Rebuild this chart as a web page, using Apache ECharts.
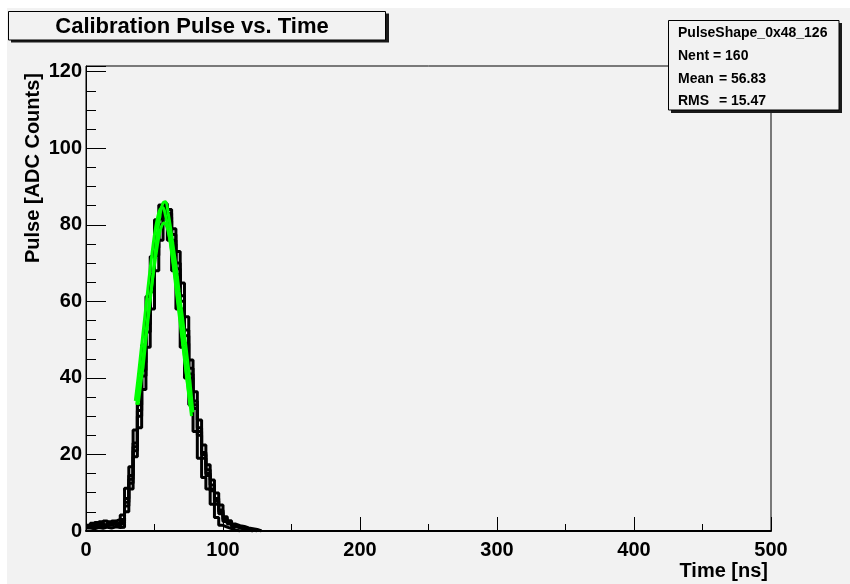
<!DOCTYPE html>
<html>
<head>
<meta charset="utf-8">
<title>Calibration Pulse vs. Time</title>
<script src="https://cdn.jsdelivr.net/npm/echarts@6/dist/echarts.min.js"></script>
<style>
  html, body { margin: 0; padding: 0; background: #fff; }
  #bg { position: absolute; left: 7px; top: 8px; width: 843px; height: 576px; background: #f2f2f2; }
  #chart { position: absolute; left: 0; top: 0; width: 850px; height: 584px; }
</style>
</head>
<body>
<div id="bg"></div>
<div id="chart"></div>
<script>
// bin width of the pulse histograms (ns)
const BIN = 3.125;

// overlaid pulse shapes, one value per bin starting at t = 0
const pulseEarly = [1.5, 1.2, 1.6, 1.3, 1.8, 2.0, 2.6, 3.0, 4.2, 11.2, 16.8, 26.4, 36.9, 48.6, 61.3, 71.7,
  81.3, 85.2, 82, 76, 68, 58, 48, 40, 33, 26, 19, 14, 11, 7, 3.5, 1.5, 1.0, 0.6, 0.3, 0];
const pulseMid1 = [1.2, 2.0, 1.0, 1.8, 1.4, 2.4, 1.8, 2.2, 3.0, 8.5, 14.5, 23, 33, 44, 56, 67,
  76, 83, 85.5, 81, 75, 67, 58, 49, 40, 32, 25, 19, 14.5, 10.5, 7, 4.5, 2.5, 1.8, 1.2, 0.8, 0.5, 0.3, 0];
const pulseMid2 = [0.9, 1.4, 2.2, 1.1, 2.6, 1.5, 2.0, 1.6, 2.0, 6.5, 12.5, 21, 30, 40.5, 52, 62.5,
  72, 80, 84.5, 83, 77.5, 70, 61.5, 52.5, 42.5, 34, 27, 20.5, 16, 12, 8.5, 5.5, 3.2, 2.2, 1.5, 1.0, 0.8, 0.5, 0.3, 0];
const pulseMid3 = [1.0, 1.7, 1.3, 2.4, 1.2, 1.9, 2.3, 1.4, 2.5, 7.5, 13.5, 22, 31.5, 42, 54, 65,
  74, 81.5, 85, 82, 76, 68.5, 60, 51, 41, 33, 26, 20, 15, 11, 7.8, 5, 2.8, 2.0, 1.3, 0.9, 0.6, 0.4, 0];
const pulseLate = [0.8, 0.6, 0.9, 0.7, 1.0, 0.8, 1.1, 0.9, 1.0, 5, 11, 19.4, 27, 37, 48, 58,
  68, 76, 84, 84, 79, 73, 64.8, 56, 44.7, 36.4, 29, 22.5, 17.3, 13.3, 9.9, 6.8, 3.7, 2.7, 1.8, 1.4, 1.2, 0.8, 0.6, 0.4, 0];

// fitted curves (green)
const fitTimeA = [38, 40, 42, 44, 46, 48, 50, 52, 54, 56, 58, 60, 62, 64, 66, 68, 70, 72, 74, 76, 78];
const fitA = [33, 38.5, 44, 51, 57.5, 64, 71, 77.5, 82.5, 85.5, 86, 83, 78.5, 73.5, 68.5, 62.5, 57, 51, 45, 38.5, 31];
const fitTimeB = [37, 39, 41, 43, 45, 47, 49, 51, 53, 55, 57, 59, 61, 63, 65, 67, 69, 71, 73, 75, 77];
const fitB = [33, 38, 43.5, 49.5, 55.5, 61.5, 67, 72, 76.5, 79.5, 80.5, 79.5, 76.5, 72, 66.5, 60.5, 54.5, 48.5, 42, 36, 30];
const fitTimeC = [36, 38, 40, 42, 44, 46, 48, 50, 52, 54, 56, 58, 60, 62, 64, 66, 68, 70, 72, 74, 76];
const fitC = [34, 40, 46.5, 53, 59.5, 66, 72, 77.5, 81.5, 84, 84.5, 82.5, 79, 74, 68.5, 62.5, 56.5, 50.5, 44.5, 38.5, 32.5];

const statLines = ['PulseShape_0x48_126', 'Nent = 160'];
const statPairs = [['Mean', '=', '56.83'], ['RMS', '=', '15.47']];

const FONT_FAMILY = '"Liberation Sans", Arial, Helvetica, sans-serif';

function histPoints(vals) {
  const pts = vals.map((v, i) => [i * BIN, v]);
  pts.push([vals.length * BIN, 0]);
  return pts;
}

function histSeries(vals) {
  return {
    type: 'line',
    step: 'end',
    data: histPoints(vals),
    symbol: 'none',
    silent: true,
    lineStyle: { color: '#000', width: 3 }
  };
}

function fitSeries(times, vals) {
  return {
    type: 'line',
    data: times.map((t, i) => [t, vals[i]]),
    smooth: 0.4,
    symbol: 'none',
    silent: true,
    z: 3,
    lineStyle: { color: '#00ff00', width: 3 }
  };
}

let chart = echarts.init(document.getElementById('chart'));

let graphics = [
  // title box
  { type: 'rect', z: 100, shape: { x: 11, y: 13.5, width: 378, height: 29 }, style: { fill: '#1a1a1a' } },
  { type: 'rect', z: 101, shape: { x: 8.5, y: 11.5, width: 377, height: 28.5 }, style: { fill: '#f2f2f2', stroke: '#000', lineWidth: 1 } },
  { type: 'text', z: 102, style: { text: 'Calibration Pulse vs. Time', x: 192, y: 26.5, textAlign: 'center', textVerticalAlign: 'middle', font: 'bold 22px ' + FONT_FAMILY, fill: '#000' } },
  // stats box
  { type: 'rect', z: 100, shape: { x: 671, y: 23, width: 171, height: 90 }, style: { fill: '#1a1a1a' } },
  { type: 'rect', z: 101, shape: { x: 668.5, y: 20.5, width: 170.5, height: 89.5 }, style: { fill: '#f2f2f2', stroke: '#000', lineWidth: 1 } },
  // axis titles
  { type: 'text', z: 102, x: 33, y: 73, rotation: Math.PI / 2, style: { text: 'Pulse [ADC Counts]', textAlign: 'right', textVerticalAlign: 'middle', font: 'bold 20px ' + FONT_FAMILY, fill: '#000' } },
  { type: 'text', z: 102, style: { text: 'Time [ns]', x: 768, y: 571, textAlign: 'right', textVerticalAlign: 'middle', font: 'bold 20px ' + FONT_FAMILY, fill: '#000' } }
];

const statY = [33, 56.5, 79.5, 101];
statLines.forEach((s, i) => {
  graphics.push({ type: 'text', z: 102, style: { text: s, x: 678, y: statY[i], textVerticalAlign: 'middle', font: 'bold 14px ' + FONT_FAMILY, fill: '#000' } });
});
statPairs.forEach((p, i) => {
  const y = statY[i + 2];
  graphics.push({ type: 'text', z: 102, style: { text: p[0], x: 678, y: y, textVerticalAlign: 'middle', font: 'bold 14px ' + FONT_FAMILY, fill: '#000' } });
  graphics.push({ type: 'text', z: 102, style: { text: p[1], x: 719, y: y, textVerticalAlign: 'middle', font: 'bold 14px ' + FONT_FAMILY, fill: '#000' } });
  graphics.push({ type: 'text', z: 102, style: { text: p[2], x: 731, y: y, textVerticalAlign: 'middle', font: 'bold 14px ' + FONT_FAMILY, fill: '#000' } });
});

let option = {
  animation: false,
  backgroundColor: 'transparent',
  grid: {
    left: 86,
    right: 79,
    top: 66,
    bottom: 53,
    show: true,
    borderColor: '#000',
    borderWidth: 1,
    backgroundColor: 'transparent'
  },
  xAxis: {
    type: 'value',
    min: 0,
    max: 500,
    interval: 100,
    axisLine: { lineStyle: { color: '#000', width: 2 } },
    axisTick: { inside: true, length: 14, lineStyle: { color: '#000' } },
    minorTick: { show: true, splitNumber: 2, length: 7, lineStyle: { color: '#000' } },
    splitLine: { show: false },
    axisLabel: { margin: 9, color: '#000', fontFamily: FONT_FAMILY, fontWeight: 'bold', fontSize: 20 }
  },
  yAxis: {
    type: 'value',
    min: 0,
    max: 121.5,
    interval: 20,
    axisLine: { show: true, lineStyle: { color: '#000', width: 1 } },
    axisTick: { inside: true, length: 20, lineStyle: { color: '#000' } },
    minorTick: { show: true, splitNumber: 4, length: 10, lineStyle: { color: '#000' } },
    splitLine: { show: false },
    axisLabel: { margin: 4, showMaxLabel: false, color: '#000', fontFamily: FONT_FAMILY, fontWeight: 'bold', fontSize: 20 }
  },
  graphic: graphics,
  series: [
    histSeries(pulseLate),
    histSeries(pulseMid2),
    histSeries(pulseMid3),
    histSeries(pulseMid1),
    histSeries(pulseEarly),
    fitSeries(fitTimeB, fitB),
    fitSeries(fitTimeC, fitC),
    fitSeries(fitTimeA, fitA)
  ]
};

chart.setOption(option);
</script>
</body>
</html>
